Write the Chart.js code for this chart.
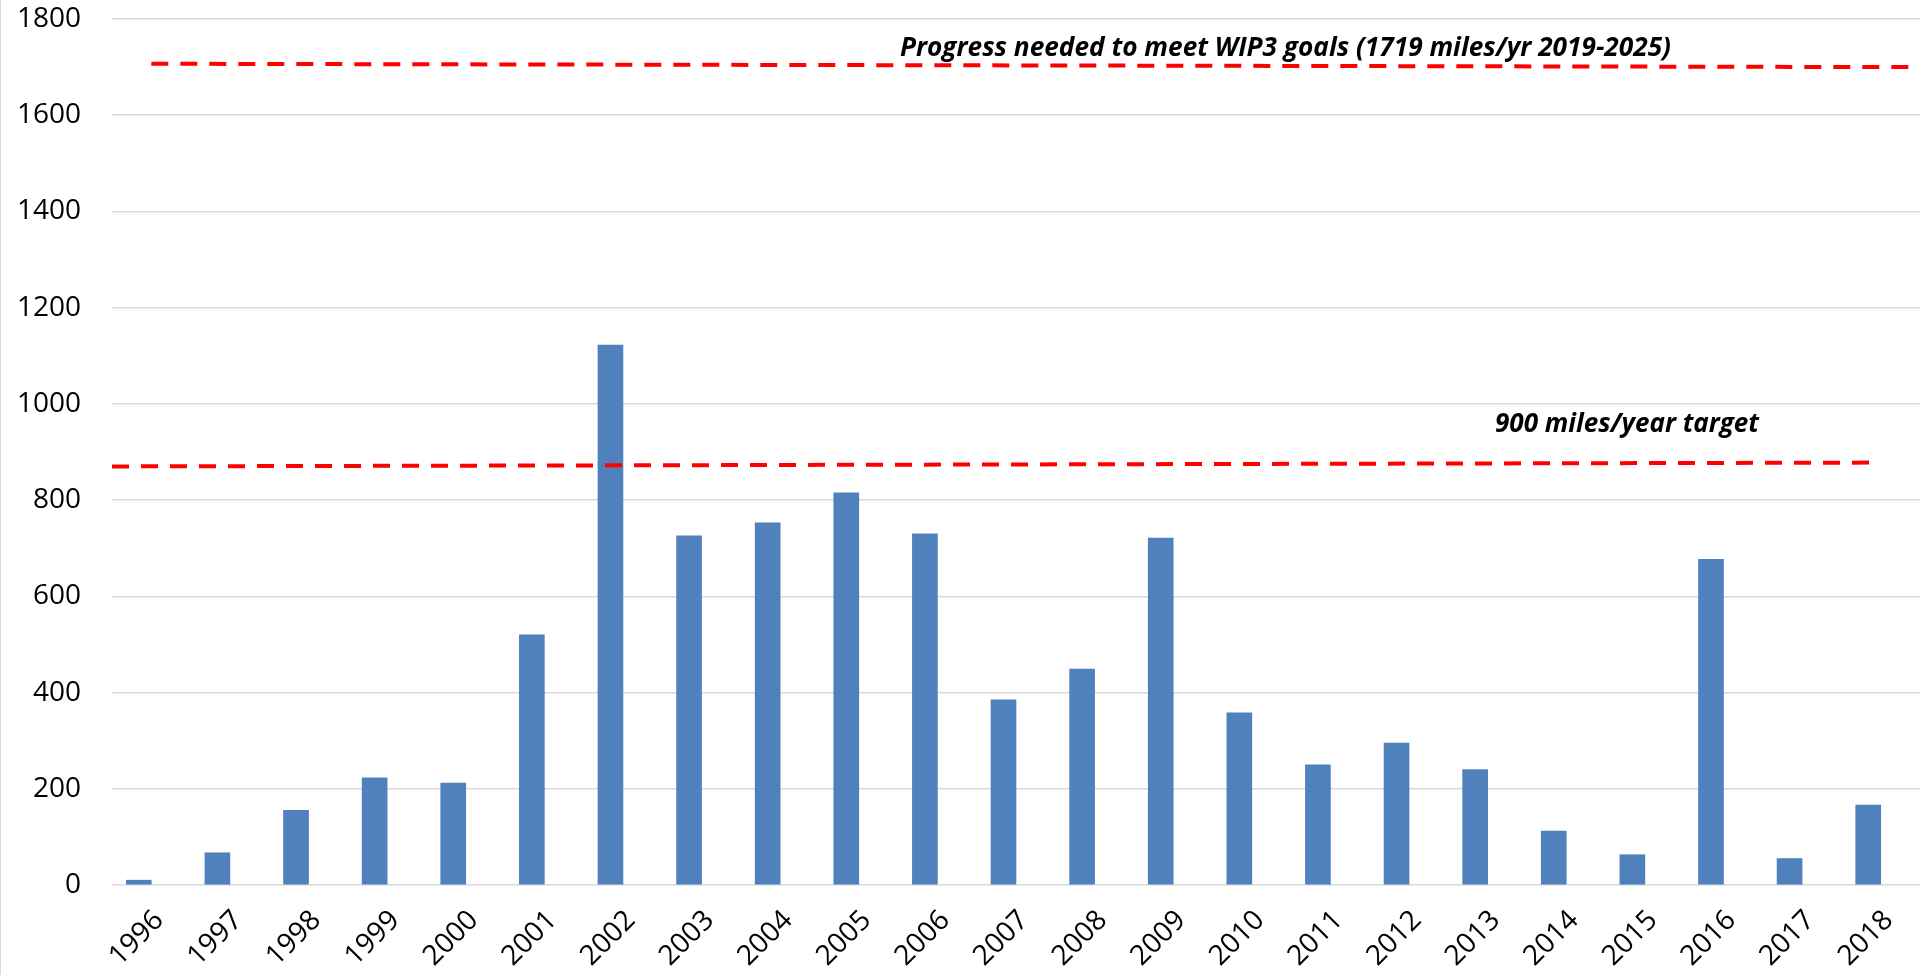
<!DOCTYPE html>
<html>
<head>
<meta charset="utf-8">
<script src="https://cdn.jsdelivr.net/npm/chart.js@4.4.1/dist/chart.umd.min.js"></script>
<style>
  html, body { margin: 0; padding: 0; background: #fff; }
  #chart { display: block; }
</style>
</head>
<body>
<canvas id="chart" width="1920" height="975"></canvas>
<script>
// data
const years = ['1996','1997','1998','1999','2000','2001','2002','2003','2004','2005','2006','2007',
               '2008','2009','2010','2011','2012','2013','2014','2015','2016','2017','2018'];
const milesPerYear = [10, 67, 155, 223, 212, 520, 1122, 726, 753, 815, 730, 385,
                      449, 721, 358, 250, 295, 240, 112, 63, 677, 55, 166];

// hand-drawn dashed lines (x in category index units)
const wip3Line = [{ x: 0, y: 1707 }, { x: 22.4, y: 1700 }];
const targetLine = [{ x: -0.5, y: 870 }, { x: 21.9, y: 878 }];

const yTicks = [0, 200, 400, 600, 800, 1000, 1200, 1400, 1600, 1800];

const wip3Label = 'Progress needed to meet WIP3 goals (1719 miles/yr 2019-2025)';
const targetLabel = '900 miles/year target';

// annotation text + left frame edge
const notes = {
    id: 'notes',
    afterDraw(chart) {
        const ctx = chart.ctx;
        ctx.save();
        ctx.fillStyle = '#d9d9d9';
        ctx.fillRect(0, 0, 1, chart.height);
        ctx.fillStyle = '#000';
        ctx.font = 'italic bold 27px "Open Sans"';
        ctx.textBaseline = 'alphabetic';
        ctx.textAlign = 'left';
        ctx.fillText(wip3Label, 900, 56, 771);
        ctx.fillText(targetLabel, 1495, 432, 264);
        ctx.restore();
    }
};

const dashed = {
    type: 'line',
    xAxisID: 'xl',
    borderColor: '#ff0000',
    borderWidth: 4,
    borderDash: [17, 12],
    pointRadius: 0,
    fill: false,
    tension: 0
};

new Chart(document.getElementById('chart'), {
    type: 'bar',
    data: {
        labels: years,
        datasets: [
            {
                label: 'Miles',
                data: milesPerYear,
                backgroundColor: '#4f81bd',
                borderWidth: 0,
                barThickness: 25,
                order: 2
            },
            Object.assign({ label: 'WIP3', data: wip3Line, order: 1 }, dashed),
            Object.assign({ label: 'Target', data: targetLine, order: 1 }, dashed)
        ]
    },
    options: {
        responsive: false,
        animation: false,
        layout: { padding: { top: 19, left: 0, right: 0, bottom: 0 } },
        plugins: {
            legend: { display: false },
            tooltip: { enabled: false }
        },
        scales: {
            x: {
                type: 'category',
                position: 'bottom',
                offset: true,
                grid: { display: false },
                border: { display: false },
                ticks: {
                    color: '#000',
                    font: { family: '"Open Sans"', size: 28 },
                    minRotation: 45,
                    maxRotation: 45,
                    autoSkip: false,
                    padding: 11,
                    labelOffset: 8
                },
                afterFit: (s) => { s.height = 90; s.paddingLeft = 0; s.paddingRight = 0; }
            },
            xl: {
                type: 'linear',
                position: 'bottom',
                display: false,
                offset: false,
                min: -0.5,
                max: 22.5
            },
            y: {
                position: 'left',
                min: 0,
                max: 1800,
                afterBuildTicks: (s) => { s.ticks = yTicks.map(v => ({ value: v })); },
                grid: { color: '#d9d9d9', lineWidth: 1.5, drawTicks: false },
                border: { display: false },
                ticks: {
                    color: '#000',
                    font: { family: '"Open Sans"', size: 28 },
                    padding: 31,
                    callback: (v) => String(v)
                },
                afterFit: (s) => { s.width = 112; s.paddingTop = 0; s.paddingBottom = 0; }
            }
        }
    },
    plugins: [notes]
});
</script>
</body>
</html>
